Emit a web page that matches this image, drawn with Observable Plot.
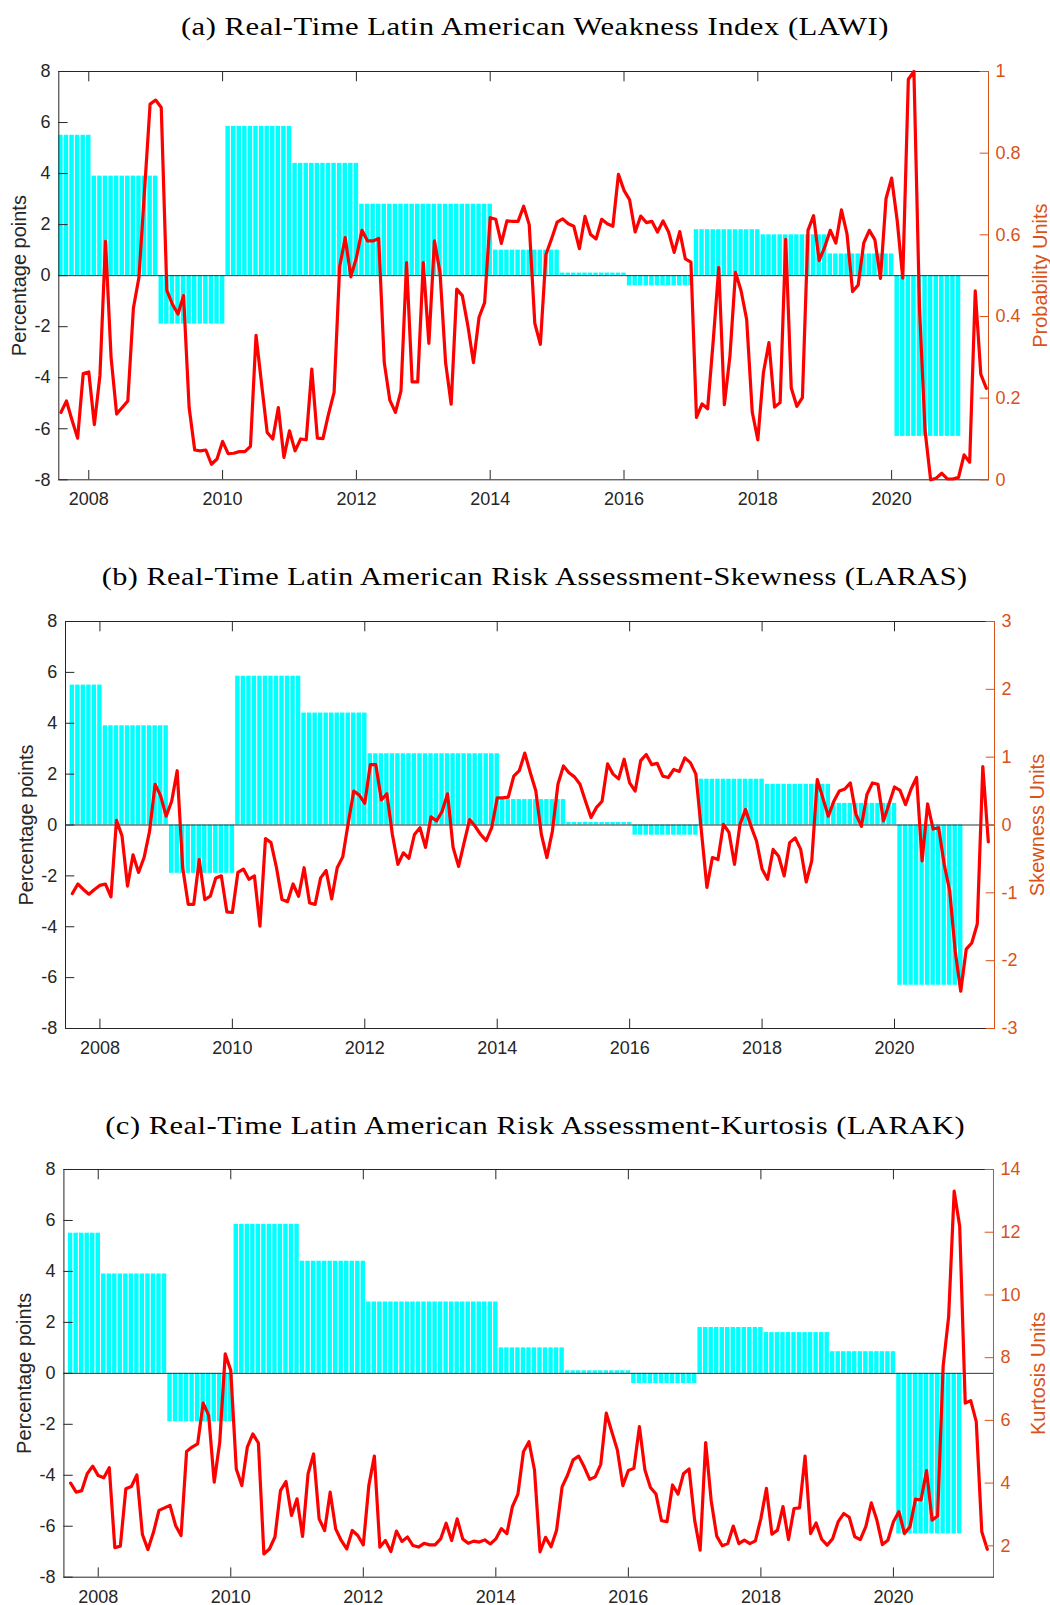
<!DOCTYPE html>
<html>
<head>
<meta charset="utf-8">
<script src="https://cdn.jsdelivr.net/npm/d3@7"></script>
<script src="https://cdn.jsdelivr.net/npm/@observablehq/plot@0.6"></script>
<style>
  html, body { margin: 0; padding: 0; background: #fff; overflow: hidden; }
  #page { position: relative; width: 1050px; height: 1605px; background: #fff; }
  .layer { position: absolute; left: 0; }
  .title { position: absolute; white-space: nowrap; line-height: 1; color: #000;
           font-family: "Liberation Serif", "Times New Roman", serif; font-size: 24.5px;
           letter-spacing: 0.4px; transform-origin: 50% 50%; }
</style>
</head>
<body>
<div id="page"></div>
<script>
// Annual output growth (percentage points), shown as monthly bars for each year
const growthYears = [2007, 2008, 2009, 2010, 2011, 2012, 2013, 2014, 2015, 2016, 2017, 2018, 2019, 2020];
const growth      = [5.5,  3.9, -1.9, 5.85,  4.4,  2.8,  2.8,  1.0,  0.1, -0.4,  1.8,  1.6, 0.85, -6.3];

// Monthly observations, July 2007 to May 2021, dated at month end
const startYear = 2007;
const startMonth = 7;

// Real-Time Latin American Weakness Index (probability units)
const lawi = [
  0.165, 0.193, 0.146, 0.102, 0.260, 0.264, 0.135, 0.255, 0.584, 0.300, 0.161, 0.177,
  0.193, 0.420, 0.496, 0.708, 0.920, 0.930, 0.912, 0.464, 0.430, 0.406, 0.451, 0.177,
  0.073, 0.071, 0.073, 0.038, 0.051, 0.094, 0.064, 0.065, 0.069, 0.069, 0.082, 0.354,
  0.234, 0.116, 0.100, 0.177, 0.055, 0.120, 0.071, 0.100, 0.098, 0.271, 0.102, 0.101,
  0.161, 0.214, 0.522, 0.593, 0.497, 0.544, 0.611, 0.585, 0.585, 0.591, 0.287, 0.195,
  0.165, 0.218, 0.532, 0.240, 0.240, 0.532, 0.334, 0.585, 0.508, 0.287, 0.185, 0.467,
  0.451, 0.377, 0.287, 0.398, 0.434, 0.642, 0.638, 0.579, 0.634, 0.633, 0.633, 0.670,
  0.625, 0.383, 0.332, 0.552, 0.590, 0.631, 0.639, 0.627, 0.621, 0.566, 0.645, 0.601,
  0.590, 0.638, 0.627, 0.621, 0.748, 0.709, 0.686, 0.607, 0.646, 0.630, 0.633, 0.607,
  0.634, 0.607, 0.557, 0.608, 0.541, 0.533, 0.153, 0.186, 0.174, 0.340, 0.520, 0.184,
  0.303, 0.508, 0.463, 0.393, 0.166, 0.098, 0.262, 0.336, 0.178, 0.189, 0.589, 0.225,
  0.180, 0.201, 0.611, 0.647, 0.537, 0.570, 0.611, 0.580, 0.661, 0.602, 0.461, 0.477,
  0.580, 0.611, 0.588, 0.493, 0.689, 0.739, 0.635, 0.494, 0.981, 1.000, 0.420, 0.120,
  0.000, 0.004, 0.016, 0.002, 0.002, 0.006, 0.061, 0.043, 0.463, 0.258, 0.224
];

// Real-Time Latin American Risk Assessment - Skewness (skewness units)
const laras = [
  -1.01, -0.87, -0.95, -1.02, -0.95, -0.89, -0.87, -1.06, 0.07, -0.16, -0.90, -0.44,
  -0.70, -0.48, -0.09, 0.60, 0.43, 0.13, 0.35, 0.80, -0.63, -1.17, -1.17, -0.51,
  -1.10, -1.05, -0.78, -0.75, -1.28, -1.29, -0.70, -0.65, -0.80, -0.75, -1.49, -0.20,
  -0.26, -0.63, -1.10, -1.13, -0.87, -1.05, -0.63, -1.15, -1.17, -0.78, -0.67, -1.09,
  -0.63, -0.47, 0.03, 0.50, 0.44, 0.32, 0.89, 0.89, 0.37, 0.46, -0.14, -0.58,
  -0.41, -0.49, -0.14, -0.04, -0.33, 0.12, 0.06, 0.20, 0.46, -0.33, -0.61, -0.26,
  0.08, -0.02, -0.14, -0.23, -0.04, 0.40, 0.40, 0.41, 0.72, 0.80, 1.06, 0.77,
  0.50, -0.14, -0.48, -0.09, 0.60, 0.87, 0.77, 0.71, 0.60, 0.35, 0.11, 0.26,
  0.35, 0.90, 0.75, 0.68, 0.97, 0.62, 0.50, 0.95, 1.04, 0.89, 0.91, 0.72,
  0.70, 0.82, 0.79, 0.99, 0.92, 0.75, -0.09, -0.92, -0.48, -0.51, 0.01, -0.11,
  -0.58, 0.01, 0.23, -0.02, -0.24, -0.65, -0.80, -0.36, -0.46, -0.75, -0.26, -0.19,
  -0.36, -0.84, -0.53, 0.67, 0.40, 0.13, 0.35, 0.50, 0.53, 0.62, 0.16, -0.02,
  0.45, 0.62, 0.60, 0.06, 0.31, 0.56, 0.51, 0.30, 0.53, 0.70, -0.53, 0.31,
  -0.06, -0.04, -0.58, -0.97, -1.86, -2.45, -1.83, -1.74, -1.46, 0.86, -0.25
];

// Real-Time Latin American Risk Assessment - Kurtosis (kurtosis units)
const larak = [
  4.00, 3.71, 3.76, 4.30, 4.54, 4.24, 4.17, 4.49, 1.94, 1.99, 3.82, 3.89,
  4.26, 2.36, 1.88, 2.43, 3.13, 3.21, 3.29, 2.65, 2.33, 5.01, 5.15, 5.25,
  6.55, 6.16, 4.03, 5.30, 8.12, 7.59, 4.45, 3.92, 5.15, 5.57, 5.28, 1.74,
  1.90, 2.28, 3.76, 4.05, 2.97, 3.50, 2.30, 4.30, 4.93, 2.86, 2.49, 3.71,
  2.54, 2.17, 1.90, 2.49, 2.33, 2.03, 3.92, 4.86, 1.96, 2.17, 1.82, 2.47,
  2.14, 2.28, 2.01, 1.96, 2.08, 2.03, 2.03, 2.22, 2.72, 2.17, 2.86, 2.22,
  2.08, 2.15, 2.12, 2.19, 2.06, 2.22, 2.55, 2.39, 3.25, 3.65, 5.00, 5.32,
  4.42, 1.81, 2.27, 1.97, 2.50, 3.88, 4.26, 4.74, 4.86, 4.52, 4.12, 4.20,
  4.60, 6.23, 5.64, 5.06, 3.92, 4.40, 4.47, 5.80, 4.42, 3.86, 3.65, 2.80,
  2.77, 3.94, 3.65, 4.31, 4.45, 2.82, 1.86, 5.29, 3.44, 2.31, 2.00, 2.07,
  2.63, 2.07, 2.18, 2.07, 2.16, 2.87, 3.83, 2.37, 2.50, 3.25, 2.20, 3.19,
  3.21, 4.86, 2.39, 2.73, 2.21, 2.02, 2.23, 2.77, 3.03, 2.91, 2.29, 2.20,
  2.61, 3.37, 2.82, 2.04, 2.18, 2.77, 3.09, 2.39, 2.61, 3.49, 3.46, 4.40,
  2.82, 2.95, 7.72, 9.31, 13.31, 12.19, 6.55, 6.63, 5.96, 2.45, 1.89
];

const yearTicks = [2008, 2010, 2012, 2014, 2016, 2018, 2020];
const leftTicks = [-8, -6, -4, -2, 0, 2, 4, 6, 8];

const CYAN = "#00FFFF";
const RED = "#FF0000";
const ORANGE = "#D95319";
const INK = "#262626";

// Month-end decimal year of each observation
const monthTime = (i) => startYear + (startMonth + i) / 12;
const monthYear = (i) => startYear + Math.floor((startMonth - 1 + i) / 12);

// Monthly bars carry the growth of their calendar year (none after 2020)
const barWidth = 0.8 / 12;
const bars = lawi.map((_, i) => {
  const k = growthYears.indexOf(monthYear(i));
  return k < 0 ? null : {x1: monthTime(i) - barWidth / 2, x2: monthTime(i) + barWidth / 2, v: growth[k]};
}).filter(Boolean);

const panels = [
  {title: "(a) Real-Time Latin American Weakness Index (LAWI)", titleWidth: 708,
   frameTop: 70.7, frameH: 408.3, left: 58.3, right: 988, xDomain: [2007.552, 2021.448],
   series: lawi, rDomain: [0, 1], rTicks: [0, 0.2, 0.4, 0.6, 0.8, 1], rLabel: "Probability Units", rLabelDx: 52},
  {title: "(b) Real-Time Latin American Risk Assessment-Skewness (LARAS)", titleWidth: 866,
   frameTop: 620.7, frameH: 407, left: 65, right: 994, xDomain: [2007.48, 2021.51],
   series: laras, rDomain: [-3, 3], rTicks: [-3, -2, -1, 0, 1, 2, 3], rLabel: "Skewness Units", rLabelDx: 43},
  {title: "(c) Real-Time Latin American Risk Assessment-Kurtosis (LARAK)", titleWidth: 860,
   frameTop: 1169, frameH: 407.7, left: 63.4, right: 993, xDomain: [2007.482, 2021.51],
   series: larak, rDomain: [1, 14], rTicks: [2, 4, 6, 8, 10, 12, 14], rLabel: "Kurtosis Units", rLabelDx: 45}
];

const page = document.getElementById("page");
const TOP_PAD = 20, BOTTOM_PAD = 50, TICK = -9.3;

function addTitle(text, cx, baseline, targetWidth) {
  const div = document.createElement("div");
  div.className = "title";
  div.textContent = text;
  page.appendChild(div);
  const w = div.getBoundingClientRect().width;
  // baseline of a 24.5px serif line box with line-height 1
  div.style.top = (baseline - 0.8375 * 24.5) + "px";
  div.style.left = (cx - w / 2) + "px";
  div.style.transform = `scaleX(${targetWidth / w})`;
}

for (const p of panels) {
  const height = TOP_PAD + p.frameH + BOTTOM_PAD;
  const common = {
    width: 1050, height,
    marginTop: TOP_PAD, marginBottom: BOTTOM_PAD,
    marginLeft: p.left, marginRight: 1050 - p.right,
    x: {domain: p.xDomain}
  };
  const fontStyle = {fontFamily: "'Liberation Sans', Arial, sans-serif", fontSize: "18px", overflow: "visible"};

  // Growth bars, zero line, frame and left axis
  const base = Plot.plot({
    ...common,
    style: {...fontStyle, background: "#fff", color: INK},
    y: {domain: [-8, 8]},
    marks: [
      Plot.rect(bars, {x1: "x1", x2: "x2", y1: 0, y2: "v", fill: CYAN}),
      Plot.ruleY([0], {stroke: "#333", strokeWidth: 1}),
      Plot.frame({stroke: INK, strokeWidth: 1}),
      Plot.axisX(yearTicks, {anchor: "bottom", tickSize: TICK, tickPadding: 22, tickFormat: (d) => String(d), label: null}),
      Plot.axisX(yearTicks, {anchor: "top", tickSize: TICK, tickFormat: () => "", label: null}),
      Plot.axisY(leftTicks, {anchor: "left", tickSize: TICK, tickPadding: 17.6, tickFormat: (d) => String(d), label: null}),
      Plot.text(["Percentage points"], {frameAnchor: "left", textAnchor: "middle", rotate: -90, dx: -39, fontSize: 20, fill: INK})
    ]
  });

  // Index line on its own right-hand scale
  const lineData = p.series.map((v, i) => ({t: monthTime(i), v}));
  const over = Plot.plot({
    ...common,
    style: {...fontStyle, background: "transparent", color: ORANGE},
    x: {domain: p.xDomain, axis: null},
    y: {domain: p.rDomain},
    marks: [
      Plot.line(lineData, {x: "t", y: "v", stroke: RED, strokeWidth: 3.2, strokeLinejoin: "round"}),
      Plot.ruleX([p.xDomain[1]], {stroke: ORANGE, strokeWidth: 1}),
      Plot.axisY(p.rTicks, {anchor: "right", tickSize: TICK, tickPadding: 16.3, color: ORANGE, tickFormat: (d) => String(d), label: null}),
      Plot.text([p.rLabel], {frameAnchor: "right", textAnchor: "middle", rotate: -90, dx: p.rLabelDx, fontSize: 20, fill: ORANGE})
    ]
  });

  for (const svg of [base, over]) {
    svg.classList.add("layer");
    svg.style.top = (p.frameTop - TOP_PAD) + "px";
    page.appendChild(svg);
  }
  addTitle(p.title, 535, p.frameTop - 34.7, p.titleWidth);
}
</script>
</body>
</html>
